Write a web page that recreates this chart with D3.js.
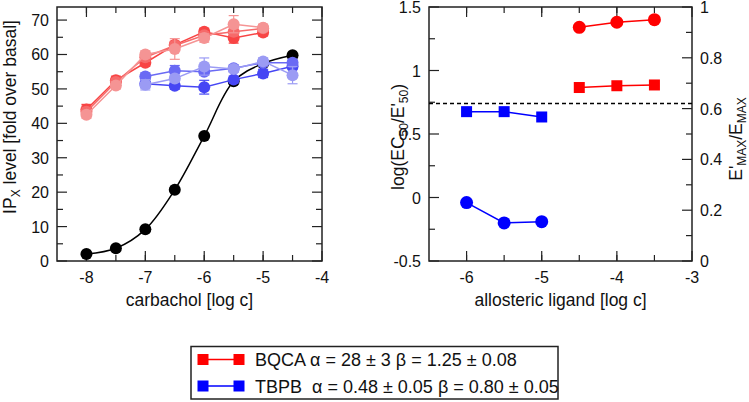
<!DOCTYPE html>
<html><head><meta charset="utf-8">
<script src="https://cdn.jsdelivr.net/npm/d3@7"></script>
<style>
html,body{margin:0;padding:0;background:#fff;}
svg{display:block;font-family:"Liberation Sans",Arial,Helvetica,sans-serif;}
</style></head>
<body>
<script>
// ---------- data: left panel (carbachol concentration response) ----------
const carbX = [-8, -7.5, -7, -6.5, -6, -5.5, -5, -4.5];
const controlY = [2.0, 3.7, 9.2, 20.7, 36.3, 52.2, 57.4, 59.8];

const bqcaX = [-8, -7.5, -7, -6.5, -6, -5.5, -5];
const bqca1Y = [44.0, 52.5, 57.6, 62.8, 66.6, 64.8, 66.4];
const bqca1E = [1.5, 1.2, 1.0, 1.0, 1.0, 1.5, 1.0];
const bqca2Y = [43.4, 52.0, 59.2, 62.6, 65.6, 66.6, 67.6];
const bqca2E = [1.2, 1.0, 1.2, 1.0, 1.0, 1.2, 1.0];
const bqca3Y = [42.5, 51.0, 60.0, 61.6, 64.8, 68.8, 67.8];
const bqca3E = [1.0, 1.0, 1.0, 3.0, 1.2, 2.5, 1.0];

const tbpbX = [-7, -6.5, -6, -5.5, -5, -4.5];
const tbpb1Y = [51.5, 50.9, 50.5, 52.7, 54.5, 56.6];
const tbpb1E = [1.2, 1.0, 2.0, 1.0, 1.2, 1.0];
const tbpb2Y = [53.6, 55.3, 55.0, 56.0, 57.6, 57.6];
const tbpb2E = [1.0, 1.5, 1.0, 1.0, 1.0, 1.0];
const tbpb3Y = [51.2, 53.0, 56.5, 55.8, 58.0, 54.0];
const tbpb3E = [1.5, 1.0, 2.5, 1.0, 1.0, 2.5];

// ---------- data: right panel (allosteric ligand) ----------
const bqcaLigX = [-4.5, -4, -3.5];
const bqcaLogRatio = [1.34, 1.38, 1.40];
const bqcaEmaxRatio = [0.683, 0.690, 0.693];
const tbpbLigX = [-6, -5.5, -5];
const tbpbLogRatio = [-0.04, -0.20, -0.19];
const tbpbEmaxRatio = [0.588, 0.588, 0.567];
const referenceLog = 0.74;

const leftXTicks = [-8, -7, -6, -5, -4];
const leftYTicks = [0, 10, 20, 30, 40, 50, 60, 70];
const rightXTicks = [-6, -5, -4, -3];
const rightYTicks = [-0.5, 0, 0.5, 1, 1.5];
const right2Ticks = [0, 0.2, 0.4, 0.6, 0.8, 1];

const legendLabels = ["BQCA \u03b1 = 28 \u00b1 3 \u03b2 = 1.25 \u00b1 0.08",
                      "TBPB  \u03b1 = 0.48 \u00b1 0.05 \u03b2 = 0.80 \u00b1 0.05"];

// ---------- drawing ----------
const W = 749, H = 402;
const svg = d3.select("body").append("svg").attr("width", W).attr("height", H);
const frameColor = "#222";
const TICK_FS = 16, TITLE_FS = 17.5, SUB_FS = 12;

// Left panel scales
const L = {l: 57, r: 322, t: 7, b: 261};
const lx = d3.scaleLinear().domain([-8.5, -4]).range([L.l, L.r]);
const ly = d3.scaleLinear().domain([0, 73.8]).range([L.b, L.t]);

// Right panel scales
const R = {l: 429, r: 692, t: 7, b: 261};
const rx = d3.scaleLinear().domain([-6.5, -3]).range([R.l, R.r]);
const ry = d3.scaleLinear().domain([-0.5, 1.5]).range([R.b, R.t]);
const ry2 = d3.scaleLinear().domain([0, 1]).range([R.b, R.t]);

function frame(box) {
  svg.append("rect").attr("x", box.l).attr("y", box.t)
    .attr("width", box.r - box.l).attr("height", box.b - box.t)
    .attr("fill", "none").attr("stroke", frameColor).attr("stroke-width", 1.5);
}

function ticksX(scale, box, majors, minors, labelFmt) {
  const g = svg.append("g");
  minors.forEach(v => {
    const x = scale(v);
    g.append("line").attr("x1", x).attr("x2", x).attr("y1", box.b).attr("y2", box.b - 6).attr("stroke", frameColor).attr("stroke-width", 1.2);
    g.append("line").attr("x1", x).attr("x2", x).attr("y1", box.t).attr("y2", box.t + 6).attr("stroke", frameColor).attr("stroke-width", 1.2);
  });
  majors.forEach(v => {
    const x = scale(v);
    g.append("line").attr("x1", x).attr("x2", x).attr("y1", box.b).attr("y2", box.b - 10).attr("stroke", frameColor).attr("stroke-width", 1.2);
    g.append("line").attr("x1", x).attr("x2", x).attr("y1", box.t).attr("y2", box.t + 10).attr("stroke", frameColor).attr("stroke-width", 1.2);
    g.append("text").attr("x", x).attr("y", box.b + 22).attr("text-anchor", "middle")
      .attr("font-size", TICK_FS).attr("fill", "#111").text(labelFmt(v));
  });
}

function ticksY(scale, box, majors, minors, side, labelFmt) {
  const g = svg.append("g");
  const x0 = side === "left" ? box.l : box.r;
  const dir = side === "left" ? 1 : -1;
  minors.forEach(v => {
    const y = scale(v);
    g.append("line").attr("x1", x0).attr("x2", x0 + dir * 6).attr("y1", y).attr("y2", y).attr("stroke", frameColor).attr("stroke-width", 1.2);
  });
  majors.forEach(v => {
    const y = scale(v);
    g.append("line").attr("x1", x0).attr("x2", x0 + dir * 10).attr("y1", y).attr("y2", y).attr("stroke", frameColor).attr("stroke-width", 1.2);
    if (labelFmt) {
      g.append("text").attr("x", side === "left" ? x0 - 8 : x0 + 8).attr("y", y + 6)
        .attr("text-anchor", side === "left" ? "end" : "start")
        .attr("font-size", TICK_FS).attr("fill", "#111").text(labelFmt(v));
    }
  });
}

// ----- left panel -----
frame(L);
ticksX(lx, L, leftXTicks, [-8, -7.5, -7, -6.5, -6, -5.5, -5, -4.5], d => d);
const lyMinor = d3.range(5, 74, 10);
ticksY(ly, L, leftYTicks, lyMinor, "left", d => d);
ticksY(ly, L, leftYTicks, lyMinor, "right", null);

const lineL = d3.line().x(d => lx(d[0])).y(d => ly(d[1]));
const curveL = d3.line().x(d => lx(d[0])).y(d => ly(d[1])).curve(d3.curveCatmullRom.alpha(0.5));

function drawSeries(xs, ys, es, color, curved) {
  const pts = xs.map((x, i) => [x, ys[i]]);
  const g = svg.append("g");
  g.append("path").datum(pts).attr("d", curved ? curveL : lineL)
    .attr("fill", "none").attr("stroke", color).attr("stroke-width", 1.5);
  if (es) {
    pts.forEach((p, i) => {
      const x = lx(p[0]), y1 = ly(p[1] - es[i]), y2 = ly(p[1] + es[i]);
      g.append("line").attr("x1", x).attr("x2", x).attr("y1", y1).attr("y2", y2).attr("stroke", color).attr("stroke-width", 1.2);
      [y1, y2].forEach(yy => g.append("line").attr("x1", x - 5).attr("x2", x + 5).attr("y1", yy).attr("y2", yy).attr("stroke", color).attr("stroke-width", 1.2));
    });
  }
  g.selectAll("circle").data(pts).join("circle")
    .attr("cx", d => lx(d[0])).attr("cy", d => ly(d[1])).attr("r", 6).attr("fill", color);
}

drawSeries(carbX, controlY, null, "#000", true);
drawSeries(tbpbX, tbpb1Y, tbpb1E, "#4646f4", false);
drawSeries(tbpbX, tbpb2Y, tbpb2E, "#6a6af4", false);
drawSeries(tbpbX, tbpb3Y, tbpb3E, "#9b9bf4", false);
drawSeries(bqcaX, bqca1Y, bqca1E, "#f84444", false);
drawSeries(bqcaX, bqca2Y, bqca2E, "#f66a6a", false);
drawSeries(bqcaX, bqca3Y, bqca3E, "#f59494", false);

svg.append("text").attr("x", (L.l + L.r) / 2).attr("y", 306).attr("text-anchor", "middle")
  .attr("font-size", TITLE_FS).attr("fill", "#111").text("carbachol [log c]");
const ylab = svg.append("text").attr("transform", `translate(16,${117}) rotate(-90)`)
  .attr("text-anchor", "middle").attr("font-size", TITLE_FS).attr("fill", "#111");
ylab.append("tspan").text("IP");
ylab.append("tspan").attr("font-size", SUB_FS).attr("dy", 4).text("X");
ylab.append("tspan").attr("dy", -4).text(" level [fold over basal]");

// ----- right panel -----
frame(R);
ticksX(rx, R, rightXTicks, [-6, -5.5, -5, -4.5, -4, -3.5], d => d);
ticksY(ry, R, rightYTicks, d3.range(-0.25, 1.5, 0.5), "left", d => d);
ticksY(ry2, R, right2Ticks, d3.range(0.1, 1, 0.2), "right", d => d);

// dashed reference line
svg.append("line").attr("x1", R.l).attr("x2", R.r).attr("y1", ry(referenceLog)).attr("y2", ry(referenceLog))
  .attr("stroke", "#000").attr("stroke-width", 1.3).attr("stroke-dasharray", "4,3");

const lineR = d3.line().x(d => rx(d[0])).y(d => d[1]);
function rightSeries(xs, vals, yScale, color, shape) {
  const pts = xs.map((x, i) => [x, yScale(vals[i])]);
  const g = svg.append("g");
  g.append("path").datum(pts).attr("d", lineR).attr("fill", "none").attr("stroke", color).attr("stroke-width", 1.5);
  if (shape === "circle") {
    g.selectAll("circle").data(pts).join("circle").attr("cx", d => rx(d[0])).attr("cy", d => d[1]).attr("r", 6.5).attr("fill", color);
  } else {
    g.selectAll("rect").data(pts).join("rect").attr("x", d => rx(d[0]) - 5.5).attr("y", d => d[1] - 5.5)
      .attr("width", 11).attr("height", 11).attr("fill", color);
  }
}
rightSeries(bqcaLigX, bqcaLogRatio, ry, "#ff0000", "circle");
rightSeries(tbpbLigX, tbpbLogRatio, ry, "#0000ff", "circle");
rightSeries(bqcaLigX, bqcaEmaxRatio, ry2, "#ff0000", "square");
rightSeries(tbpbLigX, tbpbEmaxRatio, ry2, "#0000ff", "square");

svg.append("text").attr("x", (R.l + R.r) / 2).attr("y", 306).attr("text-anchor", "middle")
  .attr("font-size", TITLE_FS).attr("fill", "#111").text("allosteric ligand [log c]");

const rl = svg.append("text").attr("transform", `translate(404,137) rotate(-90)`)
  .attr("text-anchor", "middle").attr("font-size", TITLE_FS).attr("fill", "#111");
rl.append("tspan").text("log(EC");
rl.append("tspan").attr("font-size", SUB_FS).attr("dy", 4).text("50");
rl.append("tspan").attr("dy", -4).text("/E'");
rl.append("tspan").attr("font-size", SUB_FS).attr("dy", 4).text("50");
rl.append("tspan").attr("dy", -4).text(")");

const rr = svg.append("text").attr("transform", `translate(742,139) rotate(-90)`)
  .attr("text-anchor", "middle").attr("font-size", TITLE_FS).attr("fill", "#111");
rr.append("tspan").text("E'");
rr.append("tspan").attr("font-size", SUB_FS).attr("dy", 3.5).text("MAX");
rr.append("tspan").attr("dy", -3.5).text("/E");
rr.append("tspan").attr("font-size", SUB_FS).attr("dy", 3.5).text("MAX");

// ----- legend -----
const lg = svg.append("g");
lg.append("rect").attr("x", 191).attr("y", 346.5).attr("width", 367).attr("height", 52.5)
  .attr("fill", "#fff").attr("stroke", frameColor).attr("stroke-width", 1.5);
const legColors = ["#ff0000", "#0000ff"];
legendLabels.forEach((t, i) => {
  const cy = 359.5 + i * 26.5;
  lg.append("line").attr("x1", 203).attr("x2", 239).attr("y1", cy).attr("y2", cy).attr("stroke", legColors[i]).attr("stroke-width", 1.5);
  [203, 239].forEach(cx => lg.append("rect").attr("x", cx - 5.5).attr("y", cy - 5.5).attr("width", 11).attr("height", 11).attr("fill", legColors[i]));
  lg.append("text").attr("x", 255).attr("y", cy + 6.5).attr("font-size", 18).attr("fill", "#111")
    .style("white-space", "pre").text(t);
});
</script>
</body></html>
